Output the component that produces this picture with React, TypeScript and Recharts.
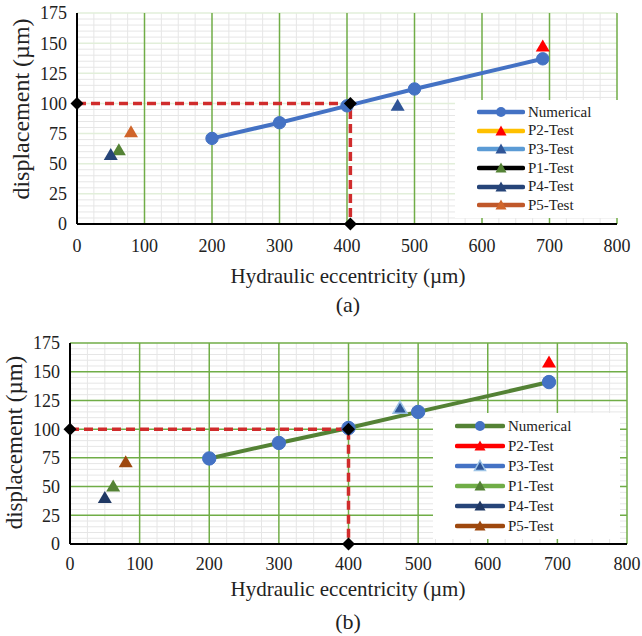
import React from 'react';
import { ComposedChart, Line, Scatter, XAxis, YAxis, CartesianGrid } from 'recharts';

const FONT = "'Liberation Serif', 'DejaVu Serif', serif";

const xTicks = [0, 100, 200, 300, 400, 500, 600, 700, 800];
const yTicks = [0, 25, 50, 75, 100, 125, 150, 175];
// light minor grid: every 25 µm across, every 5 µm up
const xMinor = xTicks.flatMap(t => [t + 25, t + 50, t + 75]).filter(v => v < 800);
const yMinor = yTicks.flatMap(t => [t + 5, t + 10, t + 15, t + 20]).filter(v => v < 175);

const testNames = ['P2-Test', 'P3-Test', 'P1-Test', 'P4-Test', 'P5-Test'];

// panel (a)
const numXA = [200, 300, 400, 500, 690];
const numYA = [71, 84, 98, 112, 137];
const guideXA = [0, 405, 405];
const guideYA = [100, 100, 0];
const testXA = [690, 475, 62, 50, 80];
const testYA = [148, 99, 62, 58, 77];

// panel (b)
const numXB = [200, 300, 400, 500, 688];
const numYB = [74.5, 88, 101, 115, 141];
const guideXB = [0, 400, 400];
const guideYB = [100, 100, 0];
const testXB = [688, 474, 62, 50, 80];
const testYB = [159, 119, 51, 41, 72];

type Style = { line: string; fill: string; stroke?: string };

const stylesA: Style[] = [
  { line: '#FFC000', fill: '#FF0000' },
  { line: '#5B9BD5', fill: '#2F5597' },
  { line: '#000000', fill: '#548235' },
  { line: '#264478', fill: '#264478' },
  { line: '#C0582A', fill: '#D0652A' },
];
const stylesB: Style[] = [
  { line: '#FF0000', fill: '#FF0000' },
  { line: '#4472C4', fill: '#2F5597', stroke: '#9DC3E6' },
  { line: '#70AD47', fill: '#548235' },
  { line: '#264478', fill: '#1F3864' },
  { line: '#9E480E', fill: '#9E480E' },
];

const zip = (xs: number[], ys: number[]) => xs.map((x, i) => ({ x, y: ys[i] }));

const Triangle = (props: any) => {
  const { cx, cy, fill, stroke, w = 14, h = 12 } = props;
  if (cx == null || cy == null) return null;
  return (
    <path
      d={`M${cx},${cy - h / 2} L${cx + w / 2},${cy + h / 2} L${cx - w / 2},${cy + h / 2} Z`}
      fill={fill}
      stroke={stroke || 'none'}
      strokeWidth={stroke ? 1.5 : 0}
    />
  );
};

const Diamond = (props: any) => {
  const { cx, cy } = props;
  if (cx == null || cy == null) return null;
  const s = 6.5;
  return <path d={`M${cx},${cy - s} L${cx + s},${cy} L${cx},${cy + s} L${cx - s},${cy} Z`} fill="#000" />;
};

interface PanelProps {
  top: number;
  height: number;
  margin: { top: number; right: number; bottom: number; left: number };
  yWidth: number;
  xTickMargin: number;
  numX: number[];
  numY: number[];
  numLine: string;
  numDot: string;
  guideX: number[];
  guideY: number[];
  testX: number[];
  testY: number[];
  styles: Style[];
  hMajor: string;
  dotR: number;
}

const Panel: React.FC<PanelProps> = p => (
  <div style={{ position: 'absolute', left: 0, top: p.top }}>
    <ComposedChart width={642} height={p.height} margin={p.margin}>
      <CartesianGrid stroke="#E6E6E6" strokeWidth={1} horizontalValues={yMinor} verticalValues={xMinor} />
      <CartesianGrid stroke={p.hMajor} strokeWidth={1.5} vertical={false} horizontalValues={yTicks} />
      <CartesianGrid stroke="#70AD47" strokeWidth={1.5} horizontal={false} verticalValues={xTicks} />
      <XAxis
        type="number"
        dataKey="x"
        domain={[0, 800]}
        ticks={xTicks}
        interval={0}
        height={30}
        axisLine={{ stroke: '#000', strokeWidth: 2 }}
        tickLine={false}
        tickMargin={p.xTickMargin}
        tick={{ fontSize: 18, fill: '#222', fontFamily: FONT }}
      />
      <YAxis
        type="number"
        dataKey="y"
        domain={[0, 175]}
        ticks={yTicks}
        interval={0}
        width={p.yWidth}
        axisLine={{ stroke: '#000', strokeWidth: 2 }}
        tickLine={false}
        tickMargin={4}
        tick={{ fontSize: 18, fill: '#222', fontFamily: FONT }}
      />
      <Line
        data={zip(p.numX, p.numY)}
        dataKey="y"
        type="linear"
        stroke={p.numLine}
        strokeWidth={4}
        dot={{ r: p.dotR, fill: p.numDot, stroke: p.numDot, strokeWidth: 1 }}
        isAnimationActive={false}
      />
      <Line
        data={zip(p.guideX, p.guideY)}
        dataKey="y"
        type="linear"
        stroke="#D02C2C"
        strokeWidth={3.5}
        strokeDasharray="9 5"
        dot={<Diamond />}
        isAnimationActive={false}
      />
      {testNames.map((name, i) => (
        <Scatter
          key={name}
          name={name}
          data={[{ x: p.testX[i], y: p.testY[i] }]}
          fill={p.styles[i].fill}
          shape={(s: any) => <Triangle {...s} fill={p.styles[i].fill} stroke={p.styles[i].stroke} />}
          isAnimationActive={false}
        />
      ))}
    </ComposedChart>
  </div>
);

interface LegendProps {
  left: number;
  top: number;
  width: number;
  rowH: number;
  lineW: number;
  numLine: string;
  numDot: string;
  styles: Style[];
}

const LegendBox: React.FC<LegendProps> = p => {
  const rows = [{ name: 'Numerical', line: p.numLine, fill: p.numDot, circle: true, stroke: undefined as string | undefined }].concat(
    testNames.map((name, i) => ({ name, line: p.styles[i].line, fill: p.styles[i].fill, circle: false, stroke: p.styles[i].stroke }))
  );
  return (
    <div
      style={{
        position: 'absolute',
        left: p.left,
        top: p.top,
        width: p.width,
        background: '#fff',
        padding: '3px 0',
        fontFamily: FONT,
        fontSize: 15,
        color: '#222',
      }}
    >
      {rows.map(r => (
        <div key={r.name} style={{ display: 'flex', alignItems: 'center', height: p.rowH, paddingLeft: 22 }}>
          <svg width={p.lineW} height={14} style={{ marginRight: 3 }}>
            <line x1={2} y1={7} x2={p.lineW - 2} y2={7} stroke={r.line} strokeWidth={4.5} strokeLinecap="round" />
            {r.circle ? (
              <circle cx={p.lineW / 2} cy={7} r={5} fill={r.fill} />
            ) : (
              <Triangle cx={p.lineW / 2} cy={6.5} w={11} h={10} fill={r.fill} stroke={r.stroke} />
            )}
          </svg>
          <span style={{ lineHeight: 1 }}>{r.name}</span>
        </div>
      ))}
    </div>
  );
};

const Text: React.FC<{ cx: number; top: number; size: number; children: React.ReactNode }> = ({ cx, top, size, children }) => (
  <div
    style={{
      position: 'absolute',
      left: cx - 200,
      top,
      width: 400,
      textAlign: 'center',
      fontFamily: FONT,
      fontSize: size,
      lineHeight: `${size}px`,
      color: '#222',
      whiteSpace: 'nowrap',
    }}
  >
    {children}
  </div>
);

const VText: React.FC<{ cx: number; cy: number; size: number; children: React.ReactNode }> = ({ cx, cy, size, children }) => (
  <div
    style={{
      position: 'absolute',
      left: cx - 150,
      top: cy - size / 2,
      width: 300,
      height: size,
      textAlign: 'center',
      fontFamily: FONT,
      fontSize: size,
      lineHeight: `${size}px`,
      color: '#222',
      whiteSpace: 'nowrap',
      transform: 'rotate(-90deg)',
    }}
  >
    {children}
  </div>
);

export default function App() {
  return (
    <div style={{ position: 'fixed', left: 0, top: 0, width: 642, height: 636, background: '#fff', overflow: 'hidden' }}>
      <Panel
        top={0}
        height={300}
        margin={{ top: 13, right: 25, bottom: 46, left: 0 }}
        yWidth={77}
        xTickMargin={9}
        numX={numXA}
        numY={numYA}
        numLine="#4472C4"
        numDot="#4472C4"
        guideX={guideXA}
        guideY={guideYA}
        testX={testXA}
        testY={testYA}
        styles={stylesA}
        hMajor="#E2EFDA"
        dotR={6.2}
      />
      <LegendBox left={455} top={100} width={163} rowH={18.6} lineW={48} numLine="#4472C4" numDot="#4472C4" styles={stylesA} />
      <VText cx={21} cy={109} size={24}>displacement (µm)</VText>
      <Text cx={348} top={266} size={21}>Hydraulic eccentricity (µm)</Text>
      <Text cx={348} top={294} size={22}>(a)</Text>

      <Panel
        top={330}
        height={306}
        margin={{ top: 13, right: 15, bottom: 62, left: 0 }}
        yWidth={70}
        xTickMargin={7}
        numX={numXB}
        numY={numYB}
        numLine="#548235"
        numDot="#4472C4"
        guideX={guideXB}
        guideY={guideYB}
        testX={testXB}
        testY={testYB}
        styles={stylesB}
        hMajor="#70AD47"
        dotR={6.7}
      />
      <LegendBox left={433} top={413} width={187} rowH={20} lineW={50} numLine="#548235" numDot="#4472C4" styles={stylesB} />
      <VText cx={14} cy={442} size={23}>displacement (µm)</VText>
      <Text cx={348} top={579} size={21}>Hydraulic eccentricity (µm)</Text>
      <Text cx={348} top={611} size={22}>(b)</Text>
    </div>
  );
}
